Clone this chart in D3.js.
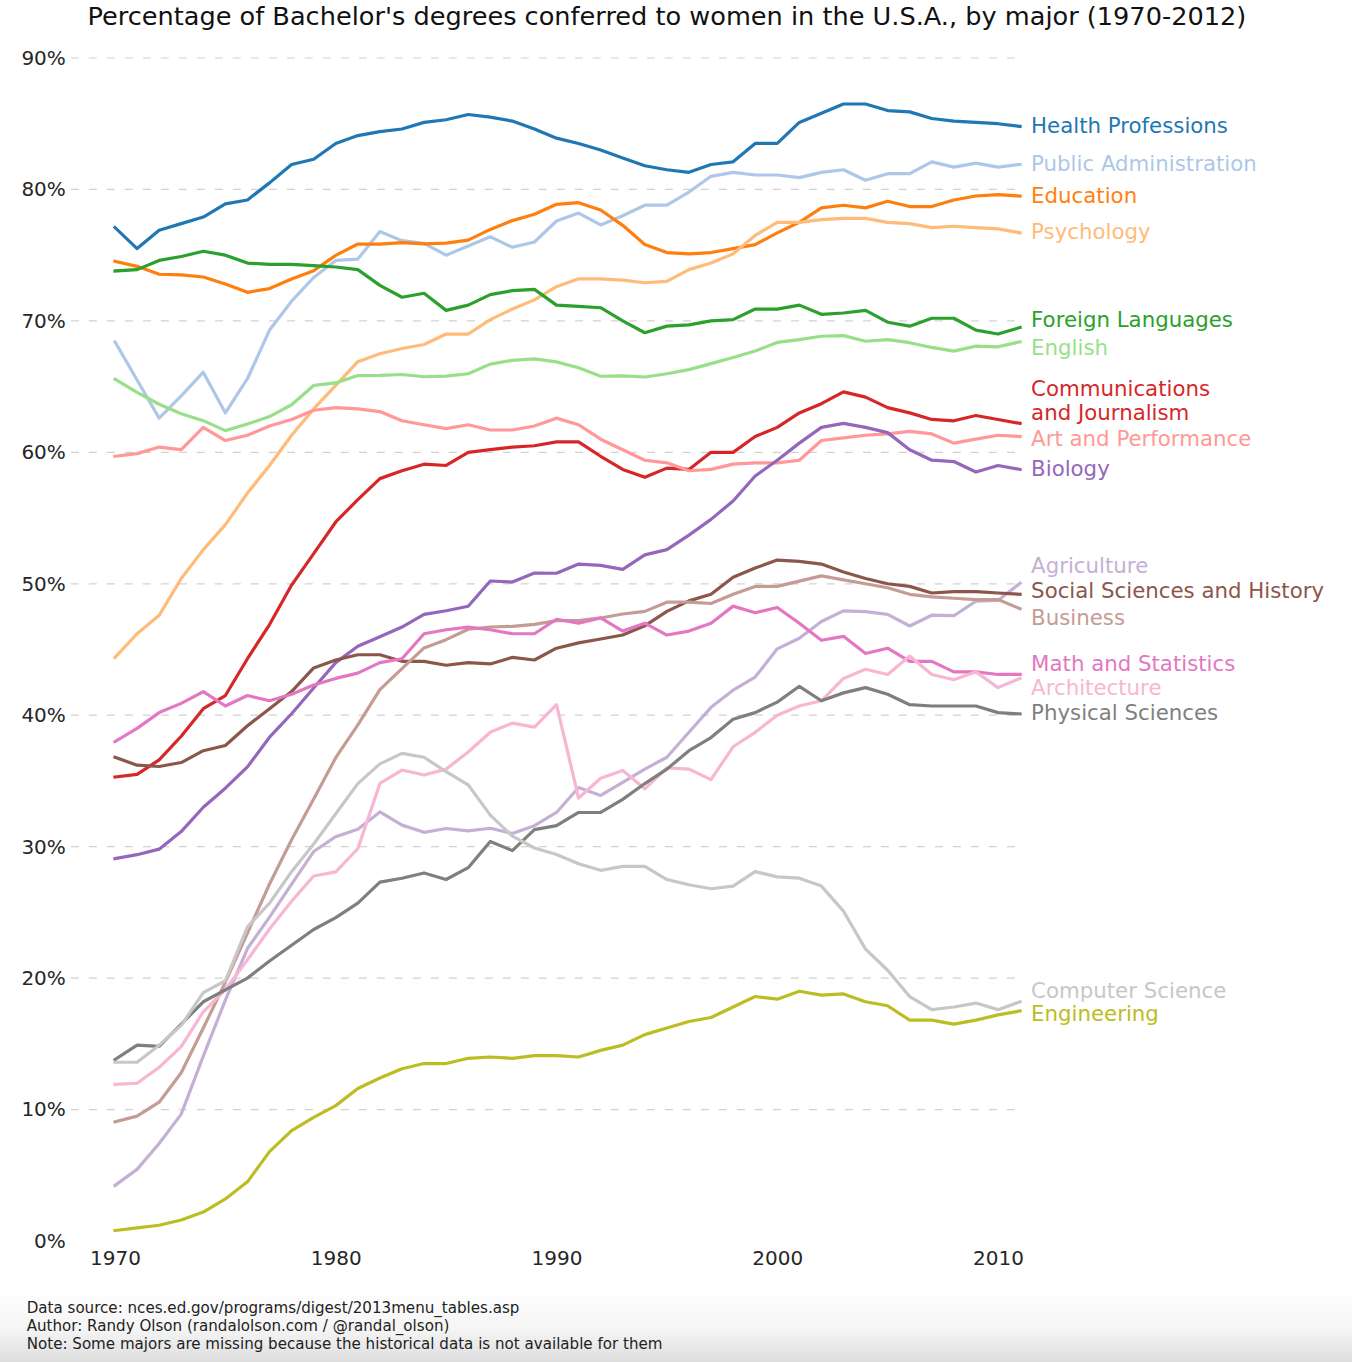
<!DOCTYPE html>
<html>
<head>
<meta charset="utf-8">
<script src="https://cdn.jsdelivr.net/npm/d3@7"></script>
<style>
  html, body { margin: 0; padding: 0; background: #fff; }
  svg { display: block; font-family: "DejaVu Sans", sans-serif; }
</style>
</head>
<body>
<svg id="chart" width="1352" height="1362"></svg>
<script>
// ---------------- data ----------------
const years = d3.range(1970, 2012);

const healthProfessions = [77.1,75.5,76.9,77.4,77.9,78.9,79.2,80.5,81.9,82.3,83.5,84.1,84.4,84.6,85.1,85.3,85.7,85.5,85.2,84.6,83.9,83.5,83.0,82.4,81.8,81.5,81.3,81.9,82.1,83.5,83.5,85.1,85.8,86.5,86.5,86.0,85.9,85.4,85.2,85.1,85.0,84.8];
const publicAdministration = [68.4,65.5,62.6,64.3,66.1,63.0,65.6,69.3,71.5,73.3,74.6,74.7,76.8,76.1,75.9,75.0,75.7,76.4,75.6,76.0,77.6,78.2,77.3,78.0,78.8,78.8,79.8,81.0,81.3,81.1,81.1,80.9,81.3,81.5,80.7,81.2,81.2,82.1,81.7,82.0,81.7,81.9];
const education = [74.54,74.15,73.55,73.5,73.34,72.8,72.17,72.46,73.19,73.82,74.98,75.85,75.84,75.95,75.86,75.92,76.14,76.96,77.63,78.11,78.87,78.99,78.44,77.27,75.81,75.2,75.1,75.2,75.5,75.8,76.7,77.5,78.6,78.8,78.6,79.1,78.7,78.7,79.2,79.5,79.6,79.5];
const psychology = [44.4,46.2,47.6,50.4,52.6,54.5,56.9,59.0,61.3,63.3,65.1,66.9,67.5,67.9,68.2,69.0,69.0,70.1,70.9,71.6,72.6,73.2,73.2,73.1,72.9,73.0,73.9,74.4,75.1,76.5,77.5,77.5,77.7,77.8,77.8,77.5,77.4,77.1,77.2,77.1,77.0,76.7];
const foreignLanguages = [73.8,73.9,74.6,74.9,75.3,75.0,74.4,74.3,74.3,74.2,74.1,73.9,72.7,71.8,72.1,70.8,71.2,72.0,72.3,72.4,71.2,71.1,71.0,70.0,69.1,69.6,69.7,70.0,70.1,70.9,70.9,71.2,70.5,70.6,70.8,69.9,69.6,70.2,70.2,69.3,69.0,69.5];
const english = [65.57,64.56,63.66,62.94,62.41,61.65,62.15,62.72,63.62,65.09,65.28,65.84,65.85,65.92,65.75,65.8,65.98,66.71,67.0,67.11,66.88,66.44,65.79,65.82,65.73,65.98,66.29,66.75,67.22,67.71,68.36,68.57,68.83,68.88,68.45,68.57,68.34,67.98,67.7,68.08,68.03,68.41];
const communicationsJournalism = [35.3,35.5,36.6,38.4,40.5,41.5,44.3,46.9,49.9,52.3,54.7,56.4,58.0,58.6,59.1,59.0,60.0,60.2,60.4,60.5,60.8,60.8,59.7,58.7,58.1,58.8,58.7,60.0,60.0,61.2,61.9,63.0,63.7,64.6,64.2,63.4,63.0,62.5,62.4,62.8,62.5,62.2];
const artPerformance = [59.7,59.9,60.4,60.2,61.9,60.9,61.3,62.0,62.5,63.2,63.4,63.3,63.1,62.4,62.1,61.8,62.1,61.7,61.7,62.0,62.6,62.1,61.0,60.2,59.4,59.2,58.6,58.7,59.1,59.2,59.2,59.4,60.9,61.1,61.3,61.4,61.6,61.4,60.7,61.0,61.3,61.2];
const biology = [29.09,29.39,29.81,31.15,33.0,34.45,36.07,38.33,40.11,42.07,44.0,45.25,45.97,46.71,47.67,47.95,48.29,50.21,50.13,50.82,50.8,51.5,51.4,51.1,52.2,52.6,53.7,54.9,56.3,58.2,59.4,60.7,61.9,62.2,61.9,61.5,60.2,59.4,59.3,58.5,59.0,58.7];
const agriculture = [4.23,5.45,7.42,9.65,14.07,18.33,22.25,24.64,27.15,29.63,30.76,31.32,32.64,31.64,31.09,31.38,31.2,31.4,31.0,31.6,32.6,34.5,33.9,34.9,35.9,36.8,38.7,40.6,41.9,42.9,45.05,45.86,47.13,47.94,47.88,47.67,46.79,47.61,47.57,48.67,48.73,50.04];
const socialSciencesHistory = [36.8,36.2,36.1,36.4,37.3,37.7,39.2,40.5,41.8,43.6,44.2,44.6,44.6,44.1,44.1,43.8,44.0,43.9,44.4,44.2,45.1,45.5,45.8,46.1,46.8,47.9,48.7,49.2,50.5,51.2,51.8,51.7,51.5,50.9,50.4,50.0,49.8,49.3,49.4,49.4,49.3,49.2];
const business = [9.06,9.5,10.56,12.8,16.2,19.69,23.43,27.16,30.53,33.62,36.77,39.27,41.95,43.54,45.12,45.75,46.54,46.71,46.76,46.91,47.2,47.2,47.4,47.7,47.9,48.6,48.6,48.5,49.2,49.8,49.8,50.2,50.6,50.3,50.0,49.7,49.2,49.0,48.9,48.8,48.8,48.1];
const mathStatistics = [38.0,39.0,40.2,40.9,41.8,40.7,41.5,41.1,41.6,42.3,42.8,43.2,44.0,44.3,46.2,46.5,46.7,46.5,46.2,46.2,47.3,47.0,47.4,46.4,47.0,46.1,46.4,47.0,48.3,47.8,48.2,47.0,45.7,46.0,44.7,45.1,44.1,44.1,43.3,43.3,43.1,43.1];
const architecture = [11.92,12.0,13.21,14.79,17.44,19.13,21.39,23.74,25.85,27.77,28.08,29.84,34.81,35.83,35.45,35.9,37.2,38.7,39.4,39.1,40.8,33.7,35.2,35.8,34.4,36.0,35.9,35.1,37.6,38.7,40.0,40.7,41.1,42.8,43.5,43.1,44.5,43.1,42.7,43.3,42.1,42.8];
const physicalSciences = [13.8,14.9,14.8,16.5,18.2,19.1,20.0,21.3,22.5,23.7,24.6,25.7,27.3,27.6,28.0,27.5,28.4,30.4,29.7,31.3,31.6,32.6,32.6,33.6,34.8,35.9,37.3,38.3,39.7,40.2,41.0,42.2,41.1,41.7,42.1,41.6,40.8,40.7,40.7,40.7,40.2,40.1];
const computerScience = [13.6,13.6,14.9,16.4,18.9,19.8,23.9,25.7,28.1,30.2,32.5,34.8,36.3,37.1,36.8,35.7,34.7,32.4,30.8,29.9,29.4,28.7,28.2,28.5,28.5,27.5,27.1,26.8,27.0,28.1,27.7,27.6,27.0,25.1,22.2,20.6,18.6,17.6,17.8,18.1,17.6,18.2];
const engineering = [0.8,1.0,1.2,1.6,2.2,3.2,4.5,6.8,8.4,9.4,10.3,11.6,12.4,13.1,13.5,13.5,13.9,14.0,13.9,14.1,14.1,14.0,14.5,14.9,15.7,16.2,16.7,17.0,17.8,18.6,18.4,19.0,18.7,18.8,18.2,17.9,16.8,16.8,16.5,16.8,17.2,17.5];

const majors = ["Health Professions","Public Administration","Education","Psychology","Foreign Languages","English","Communications\nand Journalism","Art and Performance","Biology","Agriculture","Social Sciences and History","Business","Math and Statistics","Architecture","Physical Sciences","Computer Science","Engineering"];
const seriesValues = [healthProfessions, publicAdministration, education, psychology, foreignLanguages, english, communicationsJournalism, artPerformance, biology, agriculture, socialSciencesHistory, business, mathStatistics, architecture, physicalSciences, computerScience, engineering];

const yTickValues = [0,10,20,30,40,50,60,70,80,90];
const xTickValues = [1970,1980,1990,2000,2010];
const titleText = "Percentage of Bachelor's degrees conferred to women in the U.S.A., by major (1970-2012)";
const footnoteLines = ["Data source: nces.ed.gov/programs/digest/2013menu_tables.asp","Author: Randy Olson (randalolson.com / @randal_olson)","Note: Some majors are missing because the historical data is not available for them"];

// ---------------- style / layout ----------------
const colors = ["#1f77b4","#aec7e8","#ff7f0e","#ffbb78","#2ca02c","#98df8a","#d62728","#ff9896","#9467bd","#c5b0d5","#8c564b","#c49c94","#e377c2","#f7b6d2","#7f7f7f","#c7c7c7","#bcbd22"];
// label nudges (in data units) so end labels don't overlap
const labelNudge = {"Foreign Languages":0.5,"English":-0.5,"Communications\nand Journalism":0.75,"Art and Performance":-0.25,"Agriculture":1.25,"Social Sciences and History":0.25,"Business":-0.75,"Math and Statistics":0.75,"Architecture":-0.75,"Computer Science":0.75,"Engineering":-0.25};

const W = 1352, H = 1362;
const svg = d3.select("#chart");

const x = d3.scaleLinear().domain([1970, 2010]).range([115, 998]);
const y = d3.scaleLinear().domain([0, 90]).range([1241, 58]);

// bottom shading
const defs = svg.append("defs");
const grad = defs.append("linearGradient").attr("id","bottomShade").attr("x1",0).attr("y1",0).attr("x2",0).attr("y2",1);
grad.append("stop").attr("offset","0%").attr("stop-color","#ffffff");
grad.append("stop").attr("offset","55%").attr("stop-color","#f5f5f5");
grad.append("stop").attr("offset","100%").attr("stop-color","#dedede");
svg.append("rect").attr("x",0).attr("y",1288).attr("width",W).attr("height",H-1288).attr("fill","url(#bottomShade)");

// gridlines
svg.append("g").selectAll("line").data(yTickValues.filter(v => v > 0)).join("line")
  .attr("x1", x(1968)).attr("x2", x(2011))
  .attr("y1", d => y(d)).attr("y2", d => y(d))
  .attr("stroke", "#d2d2d2").attr("stroke-width", 1.2)
  .attr("stroke-dasharray", "8,10");

// axes
const yAxis = d3.axisLeft(y).tickValues(yTickValues).tickFormat(d => d + "%").tickSize(0).tickPadding(5);
const gy = svg.append("g").attr("transform", `translate(${x(1968)},0)`).call(yAxis);
gy.select(".domain").remove();
gy.selectAll("text").attr("font-size", 20).attr("font-family", "DejaVu Sans").attr("fill", "#262626");

const xAxis = d3.axisBottom(x).tickValues(xTickValues).tickFormat(d3.format("d")).tickSize(0).tickPadding(10);
const gx = svg.append("g").attr("transform", `translate(0,${y(0)})`).call(xAxis);
gx.select(".domain").remove();
gx.selectAll("text").attr("font-size", 20).attr("font-family", "DejaVu Sans").attr("fill", "#262626");

// lines
const line = d3.line().x((d, i) => x(years[i])).y(d => y(d));
svg.append("g").selectAll("path").data(seriesValues).join("path")
  .attr("d", d => line(d))
  .attr("fill", "none")
  .attr("stroke", (d, i) => colors[i])
  .attr("stroke-width", 3.2)
  .attr("stroke-linejoin", "round")
  .attr("stroke-linecap", "square");

// end labels
const lg = svg.append("g").attr("font-size", 21.3).attr("font-family", "DejaVu Sans");
majors.forEach((name, i) => {
  const vals = seriesValues[i];
  const yPos = vals[vals.length - 1] - 0.5 + (labelNudge[name] || 0);
  const lines = name.split("\n");
  const t = lg.append("text").attr("x", x(2011.5)).attr("y", y(yPos)).attr("fill", colors[i]);
  lines.forEach((ln, k) => {
    t.append("tspan").attr("x", x(2011.5))
      .attr("dy", k === 0 ? (-(lines.length - 1) * 1.15) + "em" : "1.15em")
      .text(ln);
  });
});

// title
svg.append("text").attr("x", x(1995)).attr("y", y(92.5)).attr("text-anchor", "middle")
  .attr("font-size", 25.6).attr("fill", "#111").text(titleText);

// footnote
const ft = svg.append("text").attr("x", x(1966)).attr("y", y(-8.2)).attr("font-size", 15.1).attr("fill", "#222");
footnoteLines.forEach((ln, k) => {
  ft.append("tspan").attr("x", x(1966))
    .attr("dy", k === 0 ? (-(footnoteLines.length - 1) * 1.19) + "em" : "1.19em")
    .text(ln);
});
</script>
</body>
</html>
